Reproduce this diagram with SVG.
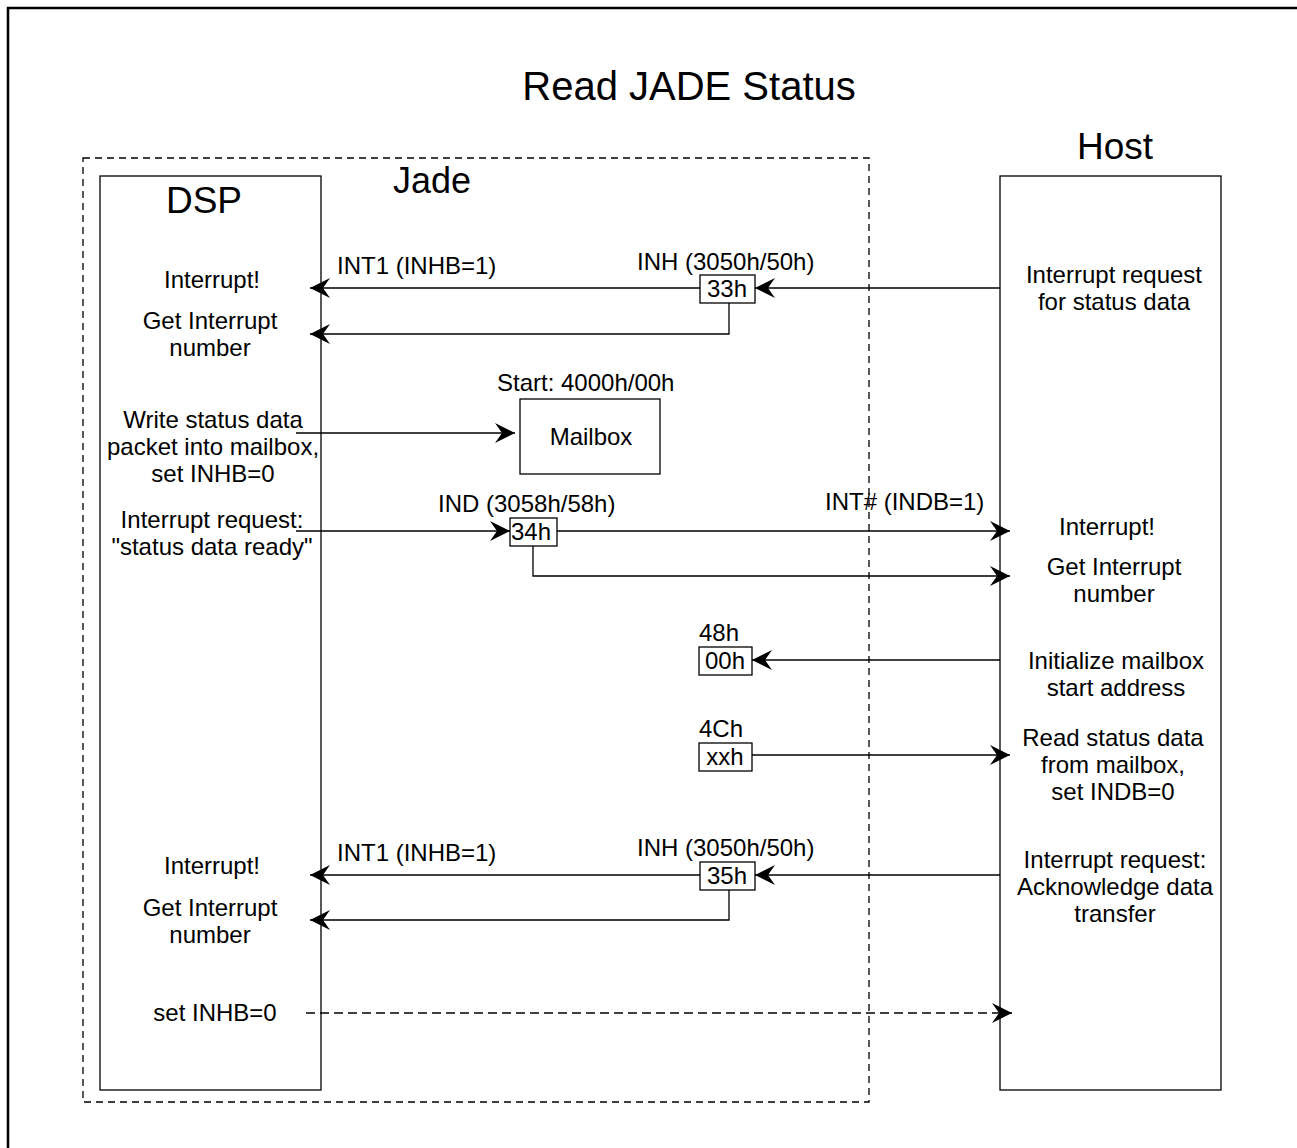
<svg xmlns="http://www.w3.org/2000/svg" width="1297" height="1148" viewBox="0 0 1297 1148">
<style>
text{font-family:"Liberation Sans",Arial,sans-serif;fill:#000}
.t{font-size:24px}
.m{text-anchor:middle}
.h{font-size:37px}
.ln{stroke:#000;stroke-width:1.3;fill:none}
.bx{fill:#fff;stroke:#000;stroke-width:1.3}
</style>
<defs>
<marker id="ah" viewBox="0 0 20 20" refX="20" refY="10" markerWidth="20" markerHeight="20" markerUnits="userSpaceOnUse" orient="auto">
<path d="M0,0 L20,10 L0,20 L7,10 Z" fill="#000"/>
</marker>
</defs>
<rect x="8" y="8" width="1300" height="1150" fill="#fff" stroke="#000" stroke-width="2.5"/>
<text x="689" y="100" font-size="40" class="m">Read JADE Status</text>
<g id="jade">
<rect x="83" y="158" width="786" height="944" fill="none" stroke="#000" stroke-width="1.3" stroke-dasharray="7,5"/>
<text x="432" y="193" font-size="36" class="m">Jade</text>
</g>
<g id="dsp">
<rect x="100" y="176" width="221" height="914" fill="#fff" stroke="#000" stroke-width="1.3"/>
<text x="204" y="213" class="h m">DSP</text>
</g>
<g id="host">
<rect x="1000" y="176" width="221" height="914" fill="#fff" stroke="#000" stroke-width="1.3"/>
<text x="1115" y="159" class="h m">Host</text>
</g>
<g id="connectors">
<line class="ln" x1="1000" y1="288" x2="755" y2="288" marker-end="url(#ah)"/>
<line class="ln" x1="700" y1="288" x2="310" y2="288" marker-end="url(#ah)"/>
<polyline class="ln" points="729,303 729,334 310,334" marker-end="url(#ah)"/>
<line class="ln" x1="296" y1="433" x2="515" y2="433" marker-end="url(#ah)"/>
<line class="ln" x1="296" y1="531" x2="510" y2="531" marker-end="url(#ah)"/>
<line class="ln" x1="557" y1="531" x2="1010" y2="531" marker-end="url(#ah)"/>
<polyline class="ln" points="533,546 533,576 1010,576" marker-end="url(#ah)"/>
<line class="ln" x1="1000" y1="660" x2="752" y2="660" marker-end="url(#ah)"/>
<line class="ln" x1="752" y1="755" x2="1010" y2="755" marker-end="url(#ah)"/>
<line class="ln" x1="1000" y1="875" x2="755" y2="875" marker-end="url(#ah)"/>
<line class="ln" x1="700" y1="875" x2="310" y2="875" marker-end="url(#ah)"/>
<polyline class="ln" points="729,890 729,920 310,920" marker-end="url(#ah)"/>
<line class="ln" x1="306" y1="1013" x2="1012" y2="1013" stroke-dasharray="9,5" marker-end="url(#ah)"/>
</g>
<g id="reg33">
<rect class="bx" x="700" y="275" width="55" height="28"/>
<text x="727" y="297" class="t m">33h</text>
<text x="637" y="270" class="t">INH (3050h/50h)</text>
<text x="337" y="274" class="t">INT1 (INHB=1)</text>
</g>
<g id="mailbox">
<rect class="bx" x="520" y="399" width="140" height="75"/>
<text x="591" y="445" class="t m">Mailbox</text>
<text x="497" y="391" class="t">Start: 4000h/00h</text>
</g>
<g id="reg34">
<rect class="bx" x="510" y="518" width="47" height="28"/>
<text x="531" y="540" class="t m">34h</text>
<text x="438" y="512" class="t">IND (3058h/58h)</text>
<text x="825" y="510" class="t">INT# (INDB=1)</text>
</g>
<g id="reg48">
<rect class="bx" x="699" y="647" width="53" height="28"/>
<text x="725" y="669" class="t m">00h</text>
<text x="699" y="641" class="t">48h</text>
</g>
<g id="reg4c">
<rect class="bx" x="699" y="743" width="53" height="28"/>
<text x="725" y="765" class="t m">xxh</text>
<text x="699" y="737" class="t">4Ch</text>
</g>
<g id="reg35">
<rect class="bx" x="700" y="862" width="55" height="28"/>
<text x="727" y="884" class="t m">35h</text>
<text x="637" y="856" class="t">INH (3050h/50h)</text>
<text x="337" y="861" class="t">INT1 (INHB=1)</text>
</g>
<g id="dsp-labels">
<text x="212" y="288" class="t m">Interrupt!</text>
<text x="210" y="329" class="t m">Get Interrupt</text>
<text x="210" y="356" class="t m">number</text>
<text x="213" y="428" class="t m">Write status data</text>
<text x="213" y="455" class="t m">packet into mailbox,</text>
<text x="213" y="482" class="t m">set INHB=0</text>
<text x="212" y="528" class="t m">Interrupt request:</text>
<text x="212" y="555" class="t m">"status data ready"</text>
<text x="212" y="874" class="t m">Interrupt!</text>
<text x="210" y="916" class="t m">Get Interrupt</text>
<text x="210" y="943" class="t m">number</text>
<text x="215" y="1021" class="t m">set INHB=0</text>
</g>
<g id="host-labels">
<text x="1114" y="283" class="t m">Interrupt request</text>
<text x="1114" y="310" class="t m">for status data</text>
<text x="1107" y="535" class="t m">Interrupt!</text>
<text x="1114" y="575" class="t m">Get Interrupt</text>
<text x="1114" y="602" class="t m">number</text>
<text x="1116" y="669" class="t m">Initialize mailbox</text>
<text x="1116" y="696" class="t m">start address</text>
<text x="1113" y="746" class="t m">Read status data</text>
<text x="1113" y="773" class="t m">from mailbox,</text>
<text x="1113" y="800" class="t m">set INDB=0</text>
<text x="1115" y="868" class="t m">Interrupt request:</text>
<text x="1115" y="895" class="t m">Acknowledge data</text>
<text x="1115" y="922" class="t m">transfer</text>
</g>
</svg>
